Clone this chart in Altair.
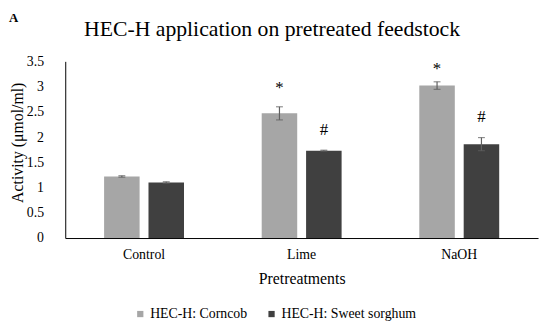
import altair as alt
import pandas as pd

categories = ["Control", "Lime", "NaOH"]
series = ["HEC-H: Corncob", "HEC-H: Sweet sorghum"]
corncob = [1.22, 2.47, 3.02]
corncob_err = [0.015, 0.13, 0.075]
sorghum = [1.10, 1.73, 1.86]
sorghum_err = [0.015, 0.01, 0.13]
corncob_marks = ["", "*", "*"]
corncob_mark_y = [0, 2.98, 3.34]
sorghum_marks = ["", "#", "#"]
sorghum_mark_y = [0, 2.13, 2.39]
y_ticks = [0, 0.5, 1, 1.5, 2, 2.5, 3, 3.5]
chart_title = "HEC-H application on pretreated feedstock"
panel_tag = "A"

rows = []
for i, c in enumerate(categories):
    rows.append(dict(cat=c, ser=series[0], val=corncob[i], err=corncob_err[i],
                     mark=corncob_marks[i], my=corncob_mark_y[i]))
    rows.append(dict(cat=c, ser=series[1], val=sorghum[i], err=sorghum_err[i],
                     mark=sorghum_marks[i], my=sorghum_mark_y[i]))
df = pd.DataFrame(rows)
df["lo"] = df["val"] - df["err"]
df["hi"] = df["val"] + df["err"]
df["tag"] = panel_tag
df["ttl"] = chart_title

FONT = "Liberation Serif"

x = alt.X("cat:N", sort=categories, title="Pretreatments",
          scale=alt.Scale(paddingInner=0.493, paddingOuter=0.2465),
          axis=alt.Axis(labelAngle=0, ticks=False, domainColor="#000000",
                        labelFont=FONT, labelFontSize=14, labelColor="#000",
                        labelPadding=10, titleFont=FONT, titleFontSize=16,
                        titleFontWeight="normal", titleColor="#000", titlePadding=9))
xo = alt.XOffset("ser:N", sort=series, scale=alt.Scale(paddingInner=0.2, paddingOuter=0))
yscale = alt.Scale(domain=[0, 3.5])
yaxis = alt.Axis(values=y_ticks, tickCount=8, grid=False, ticks=False,
                 labelOverlap=False, labelExpr="toString(datum.value)",
                 domainColor="#000", labelFont=FONT, labelFontSize=14,
                 labelColor="#000", labelPadding=22, titleFont=FONT,
                 titleFontSize=16, titleFontWeight="normal", titleColor="#000",
                 titleX=-48, titleY=82, titleBaseline="middle")
YT = "Activity (μmol/ml)"

def Y(field):
    return alt.Y(field, type="quantitative", scale=yscale, title=YT, axis=yaxis)

base = alt.Chart(df)

bars = base.mark_bar().encode(
    x=x, xOffset=xo, y=Y("val"),
    color=alt.Color("ser:N", sort=series,
                    scale=alt.Scale(domain=series, range=["#a6a6a6", "#404040"]),
                    legend=alt.Legend(title=None, orient="none", legendX=69, legendY=249,
                                      direction="horizontal", symbolType="square",
                                      symbolSize=40, symbolStrokeWidth=0, padding=0,
                                      labelFont=FONT, labelFontSize=14, labelColor="#000",
                                      labelLimit=300, columnPadding=17, labelOffset=3)),
)

rules = base.mark_rule(color="#606060", strokeWidth=1.2).encode(
    x=x, xOffset=xo, y=Y("lo"), y2="hi:Q")
caps_hi = base.mark_tick(color="#606060", size=7, thickness=1.2).encode(
    x=x, xOffset=xo, y=Y("hi"))
caps_lo = base.mark_tick(color="#606060", size=7, thickness=1.2).encode(
    x=x, xOffset=xo, y=Y("lo"))
texts = base.transform_filter("datum.mark != ''").mark_text(
    font=FONT, fontSize=17, color="#000", baseline="middle").encode(
    x=x, xOffset=xo, y=Y("my"), text="mark:N")

one = base.transform_filter("datum.cat == 'Control' && datum.ser == 'HEC-H: Corncob'")
panel_label = one.mark_text(
    font=FONT, fontSize=13, fontWeight="bold", color="#000", align="left",
    baseline="middle").encode(x=alt.value(-57), y=alt.value(-44), text="tag:N")
title_text = one.mark_text(
    font=FONT, fontSize=22, color="#000", align="center",
    baseline="middle").encode(x=alt.value(209.5), y=alt.value(-33), text="ttl:N")

chart = alt.layer(bars, rules, caps_hi, caps_lo, texts, panel_label, title_text).properties(
    width=479, height=179,
    autosize=alt.AutoSizeParams(type="none"),
    padding={"left": 58, "top": 52, "right": 4, "bottom": 82},
).configure(font=FONT).configure_legend(
    labelFont=FONT, labelFontSize=14, labelColor="#000"
).configure_axis(labelFont=FONT, titleFont=FONT).configure_view(stroke=None)

chart.save("out.html", embed_options={"renderer": "svg", "actions": False})
